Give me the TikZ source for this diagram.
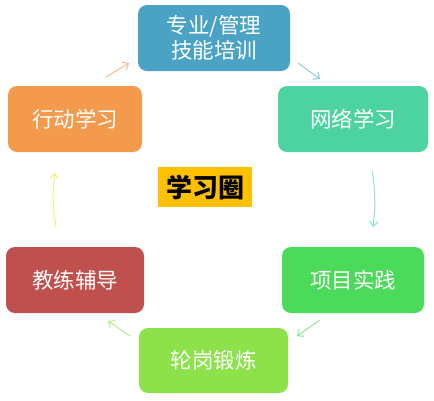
\documentclass[tikz,border=0pt]{standalone}
\usepackage{fontspec}
\newfontfamily\cjk{Noto Sans CJK SC}
\usetikzlibrary{arrows.meta}
\definecolor{cBlue}{HTML}{4AA3C4}
\definecolor{cTeal}{HTML}{4DD3A1}
\definecolor{cOrange}{HTML}{F39A4C}
\definecolor{cRed}{HTML}{C0504D}
\definecolor{cGreen}{HTML}{4CDA5A}
\definecolor{cLime}{HTML}{8DE14B}
\definecolor{cYellow}{HTML}{FFC000}
\definecolor{aOrange}{HTML}{F8B888}
\definecolor{aBlue}{HTML}{8CCCE0}
\definecolor{aTeal}{HTML}{8DE6C3}
\definecolor{aGreen}{HTML}{8CE69A}
\definecolor{aLime}{HTML}{B8EE8E}
\definecolor{aYellow}{HTML}{EEF07A}
\tikzset{
  boxnode/.style={rounded corners=9pt, inner sep=0pt, text=white,
    font=\cjk\fontsize{21.5}{25}\selectfont, align=center},
  cyc/.style={line width=1pt, -{Straight Barb[length=5pt,width=9pt]}}
}
\begin{document}
\begin{tikzpicture}[x=1pt,y=-1pt]
\useasboundingbox (0,0) rectangle (434,400);
\fill[white] (0,0) rectangle (434,400);
\node[boxnode, fill=cBlue, minimum width=152pt, minimum height=66pt] (top) at (214,38) {专业/管理\\技能培训};
\node[boxnode, fill=cTeal, minimum width=150pt, minimum height=66pt] (net) at (353,119) {网络学习};
\node[boxnode, fill=cOrange, minimum width=134pt, minimum height=66pt] (act) at (75,119) {行动学习};
\node[boxnode, fill=cRed, minimum width=138pt, minimum height=66pt] (coach) at (75,280) {教练辅导};
\node[boxnode, fill=cGreen, minimum width=142pt, minimum height=66pt] (proj) at (353,280) {项目实践};
\node[boxnode, fill=cLime, minimum width=149pt, minimum height=65pt] (rot) at (213.5,360.5) {轮岗锻炼};
\node[fill=cYellow, minimum width=94pt, minimum height=40pt, inner sep=0pt,
  font=\cjk\bfseries\fontsize{26}{30}\selectfont] (circ) at (205,187) {学习圈};
% arrow end points
\coordinate (a1s) at (106,77);  \coordinate (a1e) at (129,63);
\coordinate (a2s) at (298,63);  \coordinate (a2e) at (320,79);
\coordinate (a3s) at (372,171); \coordinate (a3e) at (373,227);
\coordinate (a4s) at (320,320); \coordinate (a4e) at (297,336);
\coordinate (a5s) at (130,336); \coordinate (a5e) at (108,321);
\coordinate (a6s) at (56,227);  \coordinate (a6e) at (55,173);
\draw[cyc, aOrange] (a1s) -- (a1e);
\draw[cyc, aBlue] (a2s) -- (a2e);
\draw[cyc, aTeal] (a3s) .. controls (375.5,190) and (375.5,208) .. (a3e);
\draw[cyc, aGreen] (a4s) -- (a4e);
\draw[cyc, aLime] (a5s) -- (a5e);
\draw[cyc, aYellow] (a6s) .. controls (52.5,208) and (52.5,190) .. (a6e);
\end{tikzpicture}
\end{document}
